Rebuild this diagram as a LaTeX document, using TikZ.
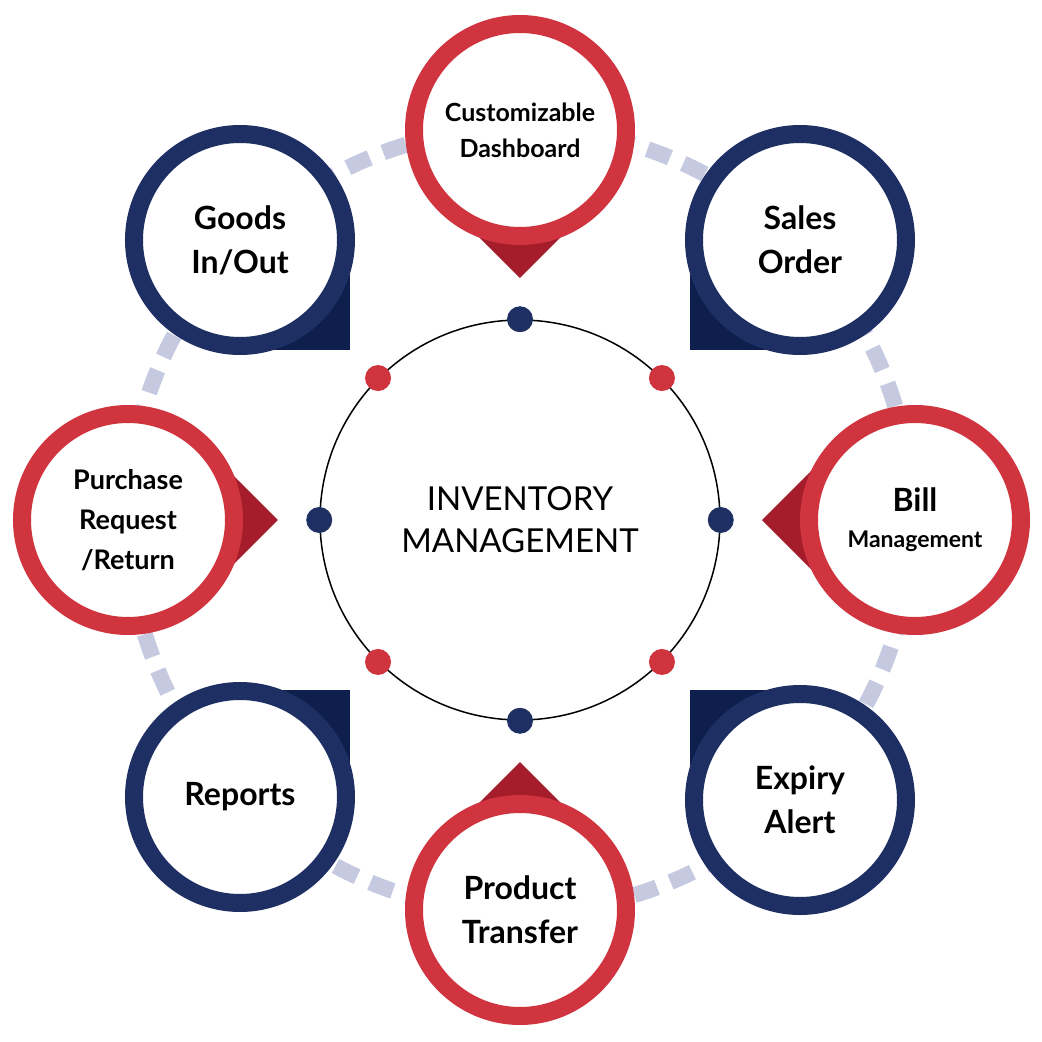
\documentclass[tikz,border=0pt]{standalone}
\usepackage{fontspec}
\setmainfont{Lato}
\definecolor{navy}{HTML}{1E2F63}
\definecolor{dnavy}{HTML}{0F1F4D}
\definecolor{myred}{HTML}{D0343F}
\definecolor{dred}{HTML}{A51C2A}
\definecolor{lav}{HTML}{C5CAE0}
\begin{document}
\begin{tikzpicture}[x=1pt,y=1pt,
  ring/.style={circle,draw=#1,line width=18pt,fill=white,minimum size=212pt,inner sep=0pt,align=center,font=\bfseries\fontsize{32}{44}\selectfont},
  dot/.style={circle,fill=#1,minimum size=26pt,inner sep=0pt}]
\useasboundingbox (-520,-522) rectangle (522,520);
\draw[lav,line width=16pt,dash pattern=on 24pt off 14.5pt] (0,0) circle (392);
\coordinate (c) at (0,0);
% navy pointers
\fill[dnavy] (-280,280) rectangle (-170,170);
\fill[dnavy] (280,280) rectangle (170,170);
\fill[dnavy] (280,-280) rectangle (170,-170);
\fill[dnavy] (-280,-280) rectangle (-170,-170);
% red pointers
\fill[dred] (0,242) -- (-60,302) -- (60,302) -- cycle;
\fill[dred] (0,-242) -- (-60,-302) -- (60,-302) -- cycle;
\fill[dred] (242,0) -- (302,60) -- (302,-60) -- cycle;
\fill[dred] (-242,0) -- (-302,60) -- (-302,-60) -- cycle;
\node[ring=myred,font=\bfseries\fontsize{25}{36}\selectfont] (cd) at (0,390) {Customizable\\Dashboard};
\node[ring=navy] (so) at (280,280) {Sales\\Order};
\node[ring=myred] (bm) at (395,0) {Bill\\[-8pt]{\fontsize{23}{28}\selectfont Management}};
\node[ring=navy] (ea) at (280,-280) {Expiry\\Alert};
\node[ring=myred] (pt) at (0,-390) {Product\\Transfer};
\node[ring=navy] (rp) at (-280,-277) {Reports};
\node[ring=myred,font=\bfseries\fontsize{27}{40}\selectfont] (pr) at (-392,0) {Purchase\\Request\\/Return};
\node[ring=navy] (gi) at (-280,280) {Goods\\In/Out};
\node[circle,draw=black,line width=1.5pt,minimum size=400pt,align=center,font=\fontsize{33}{42}\selectfont] (im) at (c) {INVENTORY\\MANAGEMENT};
\foreach \a/\col in {90/navy,0/navy,180/navy,270/navy,45/myred,135/myred,225/myred,315/myred}
  \node[dot=\col] (d\a) at (im.\a) {};
\end{tikzpicture}
\end{document}
